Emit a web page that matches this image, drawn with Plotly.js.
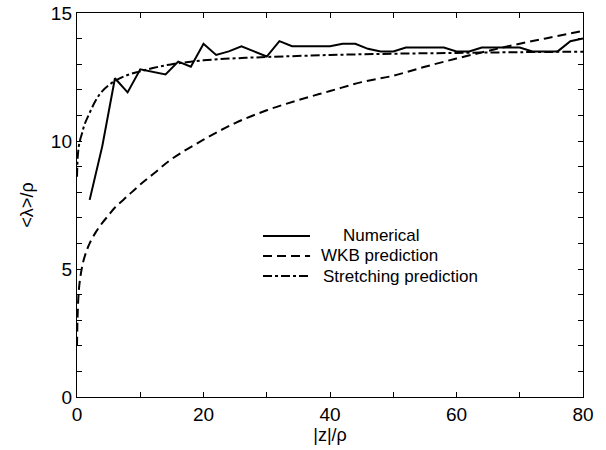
<!DOCTYPE html>
<html>
<head>
<meta charset="utf-8">
<script src="https://cdn.plot.ly/plotly-3.0.1.min.js"></script>
<style>html,body{margin:0;padding:0;background:#fff;}#chart{width:606px;height:450px;}</style>
</head>
<body>
<div id="chart"></div>
<script>
// Numerical result
const numX = [2,4,6,8,10,12,14,16,18,20,22,24,26,28,30,32,34,36,38,40,42,44,46,48,50,52,54,56,58,60,62,64,66,68,70,72,74,76,78,80];
const numY = [7.7,9.8,12.45,11.9,12.8,12.7,12.6,13.1,12.9,13.8,13.36,13.5,13.7,13.5,13.3,13.9,13.7,13.7,13.7,13.7,13.8,13.8,13.6,13.5,13.5,13.65,13.65,13.65,13.65,13.5,13.5,13.65,13.65,13.65,13.65,13.5,13.5,13.5,13.9,14.0];

// WKB prediction
const wkbX = [0,0.1,0.3,0.6,1,1.5,2,3,4,5,6,8,10,12,15,20,25,30,35,40,45,50,55,60,65,70,75,80];
const wkbY = [2.0,3.2,4.2,4.8,5.3,5.7,6.0,6.45,6.8,7.1,7.4,7.85,8.3,8.7,9.3,10.05,10.7,11.2,11.6,11.95,12.3,12.55,12.9,13.22,13.52,13.8,14.05,14.3];

// Stretching prediction
const strX = [0,0.15,0.4,0.8,1.2,2,3,4,6,8,10,12,15,20,25,30,40,50,60,70,80];
const strY = [8.6,9.5,9.95,10.3,10.65,11.1,11.6,11.95,12.35,12.58,12.72,12.85,13.0,13.15,13.23,13.28,13.36,13.41,13.44,13.47,13.49];

const names = ['Numerical', 'WKB prediction', 'Stretching prediction'];
const dashes = ['solid', '9px,5px', '9px,3px,3px,3px'];
const fontFam = 'Liberation Sans, Arial, sans-serif';

const traces = [
  {x: numX, y: numY, name: names[0], mode: 'lines', line: {color: '#000', width: 2, dash: dashes[0]}},
  {x: wkbX, y: wkbY, name: names[1], mode: 'lines', line: {color: '#000', width: 2, dash: dashes[1], shape: 'spline'}},
  {x: strX, y: strY, name: names[2], mode: 'lines', line: {color: '#000', width: 2, dash: dashes[2], shape: 'spline'}}
];

// legend drawn by hand (key samples + labels), in plot-area fractions
const keyY = [0.4193, 0.3672, 0.3151];
const keyTextX = [0.5237, 0.4802, 0.4842];
const shapes = keyY.map((y, i) => ({type: 'line', xref: 'paper', yref: 'paper', x0: 0.3676, x1: 0.4605, y0: y, y1: y,
  line: {color: '#000', width: 2, dash: dashes[i]}}));
const annotations = keyY.map((y, i) => ({xref: 'paper', yref: 'paper', x: keyTextX[i], y: y, xanchor: 'left', yanchor: 'middle',
  text: names[i], showarrow: false, borderpad: 0, font: {family: fontFam, size: 17, color: '#000'}}));

const layout = {
  width: 606, height: 450,
  margin: {l: 77, r: 23, t: 13, b: 53},
  paper_bgcolor: '#fff', plot_bgcolor: '#fff',
  font: {family: fontFam, color: '#000', size: 18},
  showlegend: false,
  shapes: shapes, annotations: annotations,
  xaxis: {range: [0, 80], tick0: 0, dtick: 20, ticks: 'inside', ticklen: 5, tickcolor: '#000',
          showline: true, linecolor: '#000', linewidth: 1.2, mirror: 'allticks', showgrid: false, zeroline: false,
          minor: {dtick: 10, ticks: 'inside', ticklen: 5, tickcolor: '#000', showgrid: false},
          tickfont: {size: 19}, title: {text: '|z|/ρ', font: {size: 18}, standoff: 4}},
  yaxis: {range: [0, 15], tick0: 0, dtick: 5, ticks: 'inside', ticklen: 5, tickcolor: '#000',
          showline: true, linecolor: '#000', linewidth: 1.2, mirror: 'allticks', showgrid: false, zeroline: false,
          minor: {dtick: 1, ticks: 'inside', ticklen: 5, tickcolor: '#000', showgrid: false},
          tickfont: {size: 19}, title: {text: '&lt;λ&gt;/ρ', font: {size: 18}, standoff: 12}}
};

Plotly.newPlot('chart', traces, layout, {staticPlot: true, displayModeBar: false});
</script>
</body>
</html>
